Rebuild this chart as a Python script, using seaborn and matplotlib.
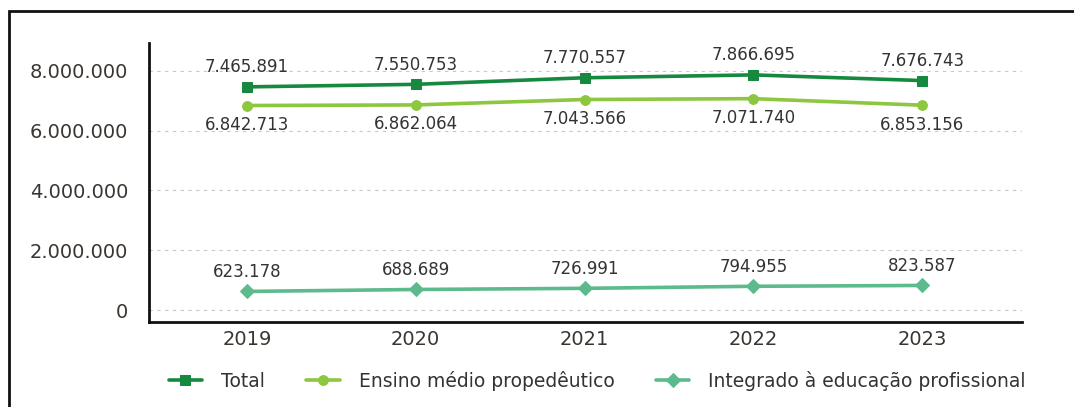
import pandas as pd
import matplotlib.pyplot as plt
import seaborn as sns
from matplotlib.ticker import FuncFormatter
from matplotlib.patches import Rectangle

# data
years = [2019, 2020, 2021, 2022, 2023]
total = [7465891, 7550753, 7770557, 7866695, 7676743]
ensino = [6842713, 6862064, 7043566, 7071740, 6853156]
integrado = [623178, 688689, 726991, 794955, 823587]
series_names = ['Total', 'Ensino médio propedêutico', 'Integrado à educação profissional']

colors = ['#17883f', '#8dc63f', '#5dba8c']
markers = ['s', 'o', 'D']

sns.set_style('white')
plt.rcParams['font.family'] = ['DejaVu Sans']

df = pd.DataFrame({
    'Ano': years * 3,
    'Valor': total + ensino + integrado,
    'Série': [series_names[0]] * 5 + [series_names[1]] * 5 + [series_names[2]] * 5,
})

def br(v, pos=None):
    return f'{int(v):,}'.replace(',', '.')

fig = plt.figure(figsize=(10.74, 4.07), dpi=100)
ax = fig.add_axes([0.1387, 0.2088, 0.8128, 0.6855])

for name, c, m in zip(series_names, colors, markers):
    sub = df[df['Série'] == name]
    sns.lineplot(data=sub, x='Ano', y='Valor', color=c, marker=m, markersize=7,
                 markeredgecolor=c, linewidth=2.6, label=name, ax=ax)

# value labels
for name, offs in zip(series_names, [14, -14, 14]):
    sub = df[df['Série'] == name]
    for x, y in zip(sub['Ano'], sub['Valor']):
        ax.annotate(br(y), (x, y), xytext=(0, offs), textcoords='offset points',
                    ha='center', va='center', fontsize=12, color='#333333')

ax.set_xlim(2019 - 0.58, 2023 + 0.59)
ax.set_ylim(-400000, 8933000)
ax.set_yticks([0, 2000000, 4000000, 6000000, 8000000])
ax.yaxis.set_major_formatter(FuncFormatter(br))
ax.set_xticks(years)
ax.set_xlabel('')
ax.set_ylabel('')
ax.tick_params(axis='both', labelsize=14, labelcolor='#3a3530', length=0, pad=15)
ax.tick_params(axis='x', pad=6)
ax.yaxis.grid(True, linestyle=(0, (3, 4)), color='#c8c8c8', linewidth=0.8)

for s in ['top', 'right']:
    ax.spines[s].set_visible(False)
for s in ['left', 'bottom']:
    ax.spines[s].set_color('#111111')
    ax.spines[s].set_linewidth(2)

handles, labels = ax.get_legend_handles_labels()
ax.get_legend().remove()
fig.legend(handles, labels, loc='center', bbox_to_anchor=(0.556, 0.064), ncol=3,
           frameon=False, fontsize=13.5, handlelength=1.8, handletextpad=1.0,
           columnspacing=2.2, labelcolor='#333333')

fig.patches.append(Rectangle((9 / 1074, -0.1), 1.2, (407 - 11) / 407 + 0.1, fill=False,
                             edgecolor='#111111', linewidth=2, transform=fig.transFigure,
                             figure=fig))

fig.savefig('out.png', dpi=100)
